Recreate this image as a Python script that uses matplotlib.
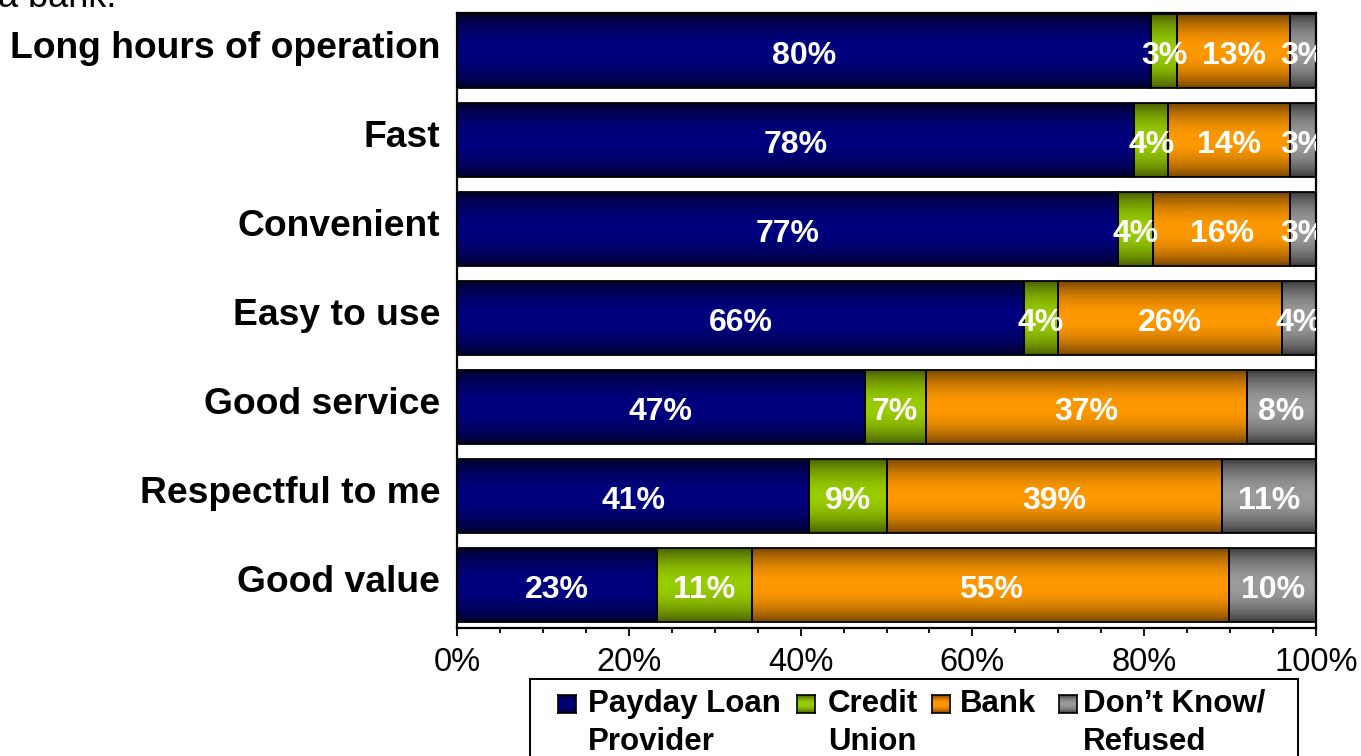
import numpy as np
import matplotlib
matplotlib.use("Agg")
import matplotlib.pyplot as plt
from matplotlib.colors import to_rgb
from matplotlib.patches import Rectangle
from matplotlib.ticker import MultipleLocator
from matplotlib.transforms import ScaledTranslation

categories = ["Long hours of operation", "Fast", "Convenient", "Easy to use",
              "Good service", "Respectful to me", "Good value"]
series = ["Payday Loan\nProvider", "Credit\nUnion", "Bank", "Don\u2019t Know/\nRefused"]
payday = [80, 78, 77, 66, 47, 41, 23]
credit_union = [3, 4, 4, 4, 7, 9, 11]
bank = [13, 14, 16, 26, 37, 39, 55]
dont_know = [3, 3, 3, 4, 8, 11, 10]
tick_values = [0, 20, 40, 60, 80, 100]

# (edge shade, centre shade) for each series' banded fill
shades = [("#00002a", "#000080"), ("#465c00", "#99cc00"),
          ("#744400", "#ff9900"), ("#383838", "#9c9c9c")]

plt.rcParams['font.family'] = ['Liberation Sans', 'DejaVu Sans']

W, H = 1361, 756
fig = plt.figure(figsize=(W / 100, H / 100), dpi=100)


def fx(px):
    return px / W


def fy(py):
    return 1 - py / H


ax = fig.add_axes([fx(457), fy(628), fx(1316 - 457), (628 - 13) / H])


def gradient_image(edge, center, n=96):
    t = np.linspace(0, 1, n)
    f = np.sin(np.pi * t) ** 0.8
    e = np.array(to_rgb(edge))
    c = np.array(to_rgb(center))
    img = e[None, :] + (c - e)[None, :] * f[:, None]
    return img[:, None, :]


data = np.array([payday, credit_union, bank, dont_know], dtype=float)
shares = data / data.sum(axis=0) * 100  # 100% stacked
bar_h = 0.83
y = np.arange(len(categories))
left = np.zeros(len(categories))

for k in range(len(series)):
    img = gradient_image(*shades[k])
    for i in range(len(categories)):
        x0, w = left[i], shares[k, i]
        ax.imshow(img, extent=(x0, x0 + w, y[i] + bar_h / 2, y[i] - bar_h / 2),
                  aspect='auto', interpolation='bilinear', zorder=1)
    ax.barh(y, shares[k], left=left, height=bar_h, facecolor='none',
            edgecolor='black', linewidth=1.3, zorder=2)
    for i in range(len(categories)):
        ax.text(left[i] + shares[k, i] / 2, y[i] + 0.055, f"{data[k, i]:.0f}%",
                ha='center', va='center', color='white', fontsize=23,
                fontweight='bold', clip_on=True, zorder=3)
    left += shares[k]

ax.set_xlim(0, 100)
ax.set_ylim(len(categories) - 1 + 0.483, -0.427)
ax.set_xticks(tick_values)
ax.set_xticklabels([f"{v}%" for v in tick_values])
ax.xaxis.set_minor_locator(MultipleLocator(5))
ax.tick_params(axis='x', which='major', length=6, width=1.3, labelsize=23.5, pad=8)
ax.tick_params(axis='x', which='minor', length=3.5, width=1.3)
ax.set_yticks(y)
ax.set_yticklabels(categories, fontsize=26.8, fontweight='bold')
ax.tick_params(axis='y', length=0, pad=12)
lift = ScaledTranslation(0, 7 / 100, fig.dpi_scale_trans)
for lab in ax.get_yticklabels():
    lab.set_transform(lab.get_transform() + lift)
for s in ax.spines.values():
    s.set_linewidth(1.6)

# Partial title line running off the top edge
fig.text(fx(-2), fy(7), "a bank.", fontsize=26, va='baseline', ha='left')

# Legend box drawn by hand so the swatches sit beside the first line
fig.patches.append(Rectangle((fx(530), fy(800)), fx(1298 - 530), (800 - 679) / H,
                             transform=fig.transFigure, facecolor='white',
                             edgecolor='black', linewidth=1.4, zorder=5))
swatch_x = [558, 797, 932, 1059]
text_x = [588, 828, 960, 1083]
for k, name in enumerate(series):
    sax = fig.add_axes([fx(swatch_x[k]), fy(713), fx(18), 18 / H], zorder=6)
    sax.imshow(gradient_image(*shades[k], n=32), aspect='auto',
               interpolation='bilinear')
    sax.set_xticks([])
    sax.set_yticks([])
    for s in sax.spines.values():
        s.set_linewidth(1.2)
    for j, line in enumerate(name.split("\n")):
        fig.text(fx(text_x[k]), fy(712 + 38 * j), line, fontsize=22.5,
                 fontweight='bold', va='baseline', ha='left', zorder=6)

fig.savefig("out.png", dpi=100)
